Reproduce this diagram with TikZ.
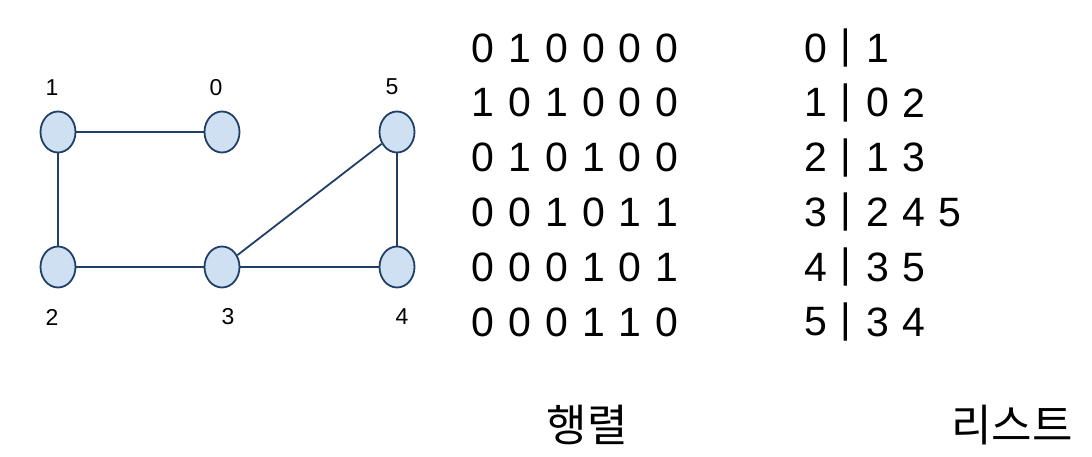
\documentclass[tikz,border=0pt]{standalone}
\usepackage{fontspec}
\setmainfont{Liberation Sans}
\newfontfamily\kr{Noto Sans CJK KR}
\usetikzlibrary{shapes.geometric}
\definecolor{vfill}{HTML}{CFE0F2}
\definecolor{vline}{HTML}{1F3F66}
\begin{document}
\begin{tikzpicture}[x=1pt,y=-1pt,
  vert/.style={ellipse,draw=vline,fill=vfill,line width=1.8pt,minimum width=35pt,minimum height=41pt,inner sep=0pt},
  edge/.style={draw=vline,line width=1.8pt},
  vlab/.style={font=\fontsize{23}{25}\selectfont,inner sep=0pt},
  cell/.style={font=\fontsize{41}{44}\selectfont,inner sep=0pt,anchor=center},
  captext/.style={font=\kr\fontsize{44}{48}\selectfont,inner sep=0pt}]
\useasboundingbox (0,0) rectangle (1092,457);
\node[vert] (v1) at (58,132) {};
\node[vert] (v0) at (222,132) {};
\node[vert] (v5) at (397,132) {};
\node[vert] (v2) at (58,267) {};
\node[vert] (v3) at (222,267) {};
\node[vert] (v4) at (397,267) {};
\draw[edge] (v1) -- (v0);
\draw[edge] (v1) -- (v2);
\draw[edge] (v2) -- (v3);
\draw[edge] (v3) -- (v4);
\draw[edge] (v3) -- (v5);
\draw[edge] (v5) -- (v4);
\node[vlab] (l1) at (52,88) {1};
\node[vlab] (l0) at (216,88) {0};
\node[vlab] (l5) at (392,87) {5};
\node[vlab] (l2) at (52,317) {2};
\node[vlab] (l3) at (228,317) {3};
\node[vlab] (l4) at (402,317) {4};
% adjacency matrix
\foreach \row [count=\r from 0] in {{0,1,0,0,0,0},{1,0,1,0,0,0},{0,1,0,1,0,0},{0,0,1,0,1,1},{0,0,0,1,0,1},{0,0,0,1,1,0}}{
  \foreach \d [count=\c from 0] in \row {
    \node[cell] (m-\r-\c) at ({483+36.8*\c},{48+54.8*\r}) {\d};
  }
}
% adjacency list
\foreach \row [count=\r from 0] in {{1},{0,2},{1,3},{2,4,5},{3,5},{3,4}}{
  \node[cell] (h-\r) at (816,{48+54.8*\r}) {\r};
  \node[cell] (b-\r) at (846,{48+54.8*\r}) {|};
  \foreach \d [count=\c from 0] in \row {
    \node[cell] (a-\r-\c) at ({878+36*\c},{48+54.8*\r}) {\d};
  }
}
\node[captext] (mat) at (587,425) {행렬};
\node[captext] (lst) at (1012,425) {리스트};
\end{tikzpicture}
\end{document}
